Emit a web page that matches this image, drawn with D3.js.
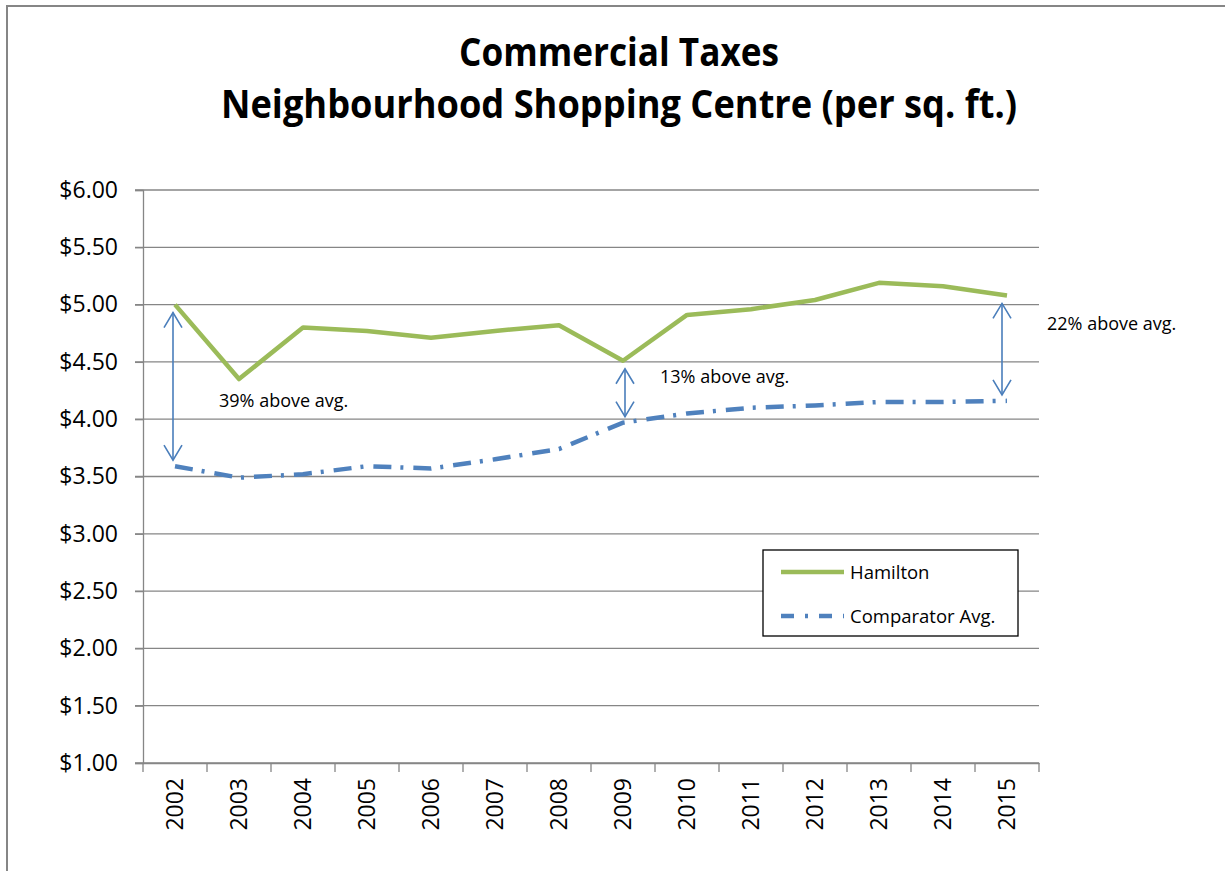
<!DOCTYPE html>
<html lang="en">
<head>
<meta charset="UTF-8">
<title>Commercial Taxes</title>
<style>
  body { margin: 0; background: #fff; }
  svg text { font-family: "Open Sans", sans-serif; fill: #000; }
</style>
</head>
<body>
<script src="https://cdn.jsdelivr.net/npm/d3@7"></script>
<script>
// data
const years = ["2002","2003","2004","2005","2006","2007","2008","2009","2010","2011","2012","2013","2014","2015"];
const hamilton = [5.00, 4.35, 4.80, 4.77, 4.71, 4.77, 4.82, 4.51, 4.91, 4.96, 5.04, 5.19, 5.16, 5.08];
const comparator = [3.59, 3.49, 3.52, 3.59, 3.57, 3.65, 3.74, 3.97, 4.05, 4.10, 4.12, 4.15, 4.15, 4.16];
const yTicks = [1.0, 1.5, 2.0, 2.5, 3.0, 3.5, 4.0, 4.5, 5.0, 5.5, 6.0];
const titleLines = ["Commercial Taxes", "Neighbourhood Shopping Centre (per sq. ft.)"];
// gap arrows: year, label, label offset
const gaps = [
  { year: "2002", text: "39% above avg.", shift: -2, dx: 46, ty: 407 },
  { year: "2009", text: "13% above avg.", shift: 2, dx: 35, ty: 383 },
  { year: "2015", text: "22% above avg.", shift: -5, dx: 45, ty: 330 }
];

const W = 1225, H = 871;
const m = { left: 143, right: 1039, top: 190, bottom: 763 };
const green = "#9bbb59", blue = "#4f81bd", arrowBlue = "#4a7ebb", grid = "#868686";

const svg = d3.select("body").append("svg").attr("width", W).attr("height", H);

// outer frame
svg.append("rect").attr("x", 7).attr("y", 6).attr("width", 1240).attr("height", 900)
  .attr("fill", "none").attr("stroke", grid).attr("stroke-width", 2);

// title
const titleSizes = [{ y: 66, len: 320 }, { y: 118, len: 796 }];
svg.selectAll("text.title").data(titleLines).enter().append("text")
  .attr("class", "title")
  .attr("x", 619).attr("y", (d, i) => titleSizes[i].y)
  .attr("text-anchor", "middle")
  .attr("font-size", 39).attr("font-weight", "bold")
  .attr("textLength", (d, i) => titleSizes[i].len)
  .attr("lengthAdjust", "spacingAndGlyphs")
  .text(d => d);

const x = d3.scaleBand().domain(years).range([m.left, m.right]);
const y = d3.scaleLinear().domain([1, 6]).range([m.bottom, m.top]);
const cx = d => x(d) + x.bandwidth() / 2;

// gridlines
svg.append("g").selectAll("line").data(yTicks).enter().append("line")
  .attr("x1", m.left - 8).attr("x2", m.right)
  .attr("y1", d => y(d)).attr("y2", d => y(d))
  .attr("stroke", grid).attr("stroke-width", 1.3);

// y axis
const yAxis = svg.append("g").attr("transform", `translate(${m.left},0)`)
  .call(d3.axisLeft(y).tickValues(yTicks).tickSize(8).tickPadding(17).tickFormat(d3.format("$.2f")));
yAxis.select(".domain").attr("stroke", grid).attr("stroke-width", 1.3);
yAxis.selectAll(".tick line").attr("stroke", grid).attr("stroke-width", 1.3);
yAxis.selectAll(".tick text").attr("font-size", 23).attr("font-family", "Open Sans").attr("fill", "#000");

// x axis
const xAxis = svg.append("g").attr("transform", `translate(0,${m.bottom})`)
  .call(d3.axisBottom(x).tickSize(0).tickSizeOuter(0));
xAxis.select(".domain").attr("stroke", grid).attr("stroke-width", 1.3);
xAxis.selectAll(".tick text")
  .attr("font-family", "Liberation Sans").attr("font-size", 23).attr("fill", "#000")
  .attr("transform", "rotate(-90)")
  .attr("text-anchor", "end")
  .attr("x", -15).attr("y", 0).attr("dy", "0.35em");
// category boundary ticks
svg.append("g").selectAll("line").data(d3.range(years.length + 1)).enter().append("line")
  .attr("x1", i => m.left + i * x.bandwidth()).attr("x2", i => m.left + i * x.bandwidth())
  .attr("y1", m.bottom).attr("y2", m.bottom + 9)
  .attr("stroke", grid).attr("stroke-width", 1.3);

// lines
const line = d3.line().x((d, i) => cx(years[i])).y(d => y(d));
svg.append("path").datum(comparator).attr("d", line)
  .attr("fill", "none").attr("stroke", blue).attr("stroke-width", 4.5)
  .attr("stroke-dasharray", "18 9 3 10");
svg.append("path").datum(hamilton).attr("d", line)
  .attr("fill", "none").attr("stroke", green).attr("stroke-width", 4.5)
  .attr("stroke-linejoin", "round");

// double-headed arrows between series
const ag = svg.append("g").attr("stroke", arrowBlue).attr("stroke-width", 1.6).attr("fill", "none");
gaps.forEach(g => {
  const i = years.indexOf(g.year);
  const ax = cx(g.year) + g.shift;
  const top = y(hamilton[i]) + 8, bot = y(comparator[i]) - 6;
  ag.append("line").attr("x1", ax).attr("x2", ax).attr("y1", top).attr("y2", bot);
  ag.append("path").attr("d", `M${ax - 9},${top + 15}L${ax},${top}L${ax + 9},${top + 15}`);
  ag.append("path").attr("d", `M${ax - 9},${bot - 15}L${ax},${bot}L${ax + 9},${bot - 15}`);
  svg.append("text").attr("x", ax + g.dx).attr("y", g.ty)
    .attr("font-size", 18).text(g.text);
});

// legend
const lg = svg.append("g").attr("transform", "translate(763,550)");
lg.append("rect").attr("width", 255).attr("height", 86)
  .attr("fill", "#fff").attr("stroke", "#000").attr("stroke-width", 1.3);
const legendItems = [
  { name: "Hamilton", color: green, dash: null },
  { name: "Comparator Avg.", color: blue, dash: "13 11 3 11" }
];
legendItems.forEach((d, i) => {
  const ly = 22 + i * 44;
  lg.append("line").attr("x1", 18).attr("x2", 81).attr("y1", ly).attr("y2", ly)
    .attr("stroke", d.color).attr("stroke-width", 4.5)
    .attr("stroke-dasharray", d.dash);
  lg.append("text").attr("x", 87).attr("y", ly + 7).attr("font-size", 18.5).text(d.name);
});
</script>
</body>
</html>
